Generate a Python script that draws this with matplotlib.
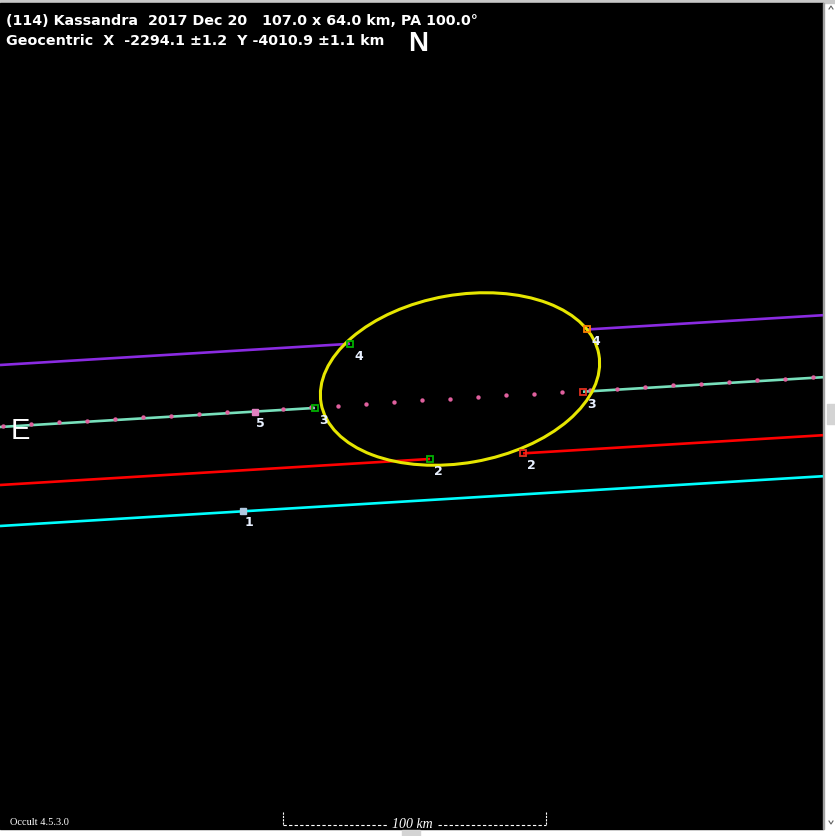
import matplotlib
matplotlib.use("Agg")
import matplotlib.pyplot as plt
from matplotlib.patches import Ellipse, Rectangle
import numpy as np

# ---- data (screen pixel units of the original plot frame) ----
title_line1 = "(114) Kassandra  2017 Dec 20   107.0 x 64.0 km, PA 100.0°"
title_line2 = "Geocentric  X  -2294.1 ±1.2  Y -4010.9 ±1.1 km"

slope = -0.0605                      # common track slope (dy/dx)
chord_ids = ["4", "3", "2", "1"]
chord_colors = ["#8a2be2", "#78e0bc", "#ff0000", "#00ffff"]
chord_intercepts = [366, 428, 486, 527]          # y at x = 0
chord_segments = [
    [(0, 350), (587, 823)],
    [(0, 315), (583, 823)],
    [(0, 430), (523, 823)],
    [(0, 823)],
]
disappear_x = [350, 315, 430]
reappear_x = [587, 583, 523]
disappear_colors = ["#00b000", "#00b000", "#00b000"]
reappear_colors = ["#ff8000", "#e03020", "#e03020"]

chord1_marker_x = 243
chord5_marker_x = 255                 # chord 5 lies on chord 3 track
dot_track_x = [3, 31, 59, 87, 115, 143, 171, 199, 227, 283, 311, 338, 366, 394,
               422, 450, 478, 506, 534, 562, 590, 617, 645, 673, 701, 729, 757,
               785, 813]

ell_center = (460, 380)
ell_major = 282
ell_minor = 168
ell_angle = -10

scale_x0, scale_x1 = 283, 546

# ---- figure ----
W, H = 835, 837
fig = plt.figure(figsize=(W / 100, H / 100), dpi=100, facecolor="white")
ax = fig.add_axes([0, 0, 1, 1])
ax.set_xlim(0, W)
ax.set_ylim(H, 0)
ax.axis("off")

# frame
ax.add_patch(Rectangle((0, 0), W, 4, color="#c8c8c8", zorder=0))
ax.add_patch(Rectangle((0, 4), 823, 826, color="black", zorder=0))
ax.add_patch(Rectangle((823, 4), 1, 826, color="#a0a0a0", zorder=0))
ax.add_patch(Rectangle((827, 405), 8, 20, color="#d4d4d4", zorder=0))
ax.add_patch(Rectangle((402, 831), 18, 6, color="#d4d4d4", zorder=0))
ax.plot([829, 831, 833], [10, 7, 10], color="#606060", lw=0.8)
ax.plot([829, 831, 833], [822, 825, 822], color="#606060", lw=0.8)


def ty(x, b):
    return b + slope * np.asarray(x, dtype=float)


# chords
for cid, col, b, segs in zip(chord_ids, chord_colors, chord_intercepts, chord_segments):
    for x0, x1 in segs:
        ax.plot([x0, x1], [ty(x0, b), ty(x1, b)], color=col, lw=1.9,
                solid_capstyle="butt", zorder=2)

# dotted track along chord 3
ax.scatter(dot_track_x, ty(dot_track_x, chord_intercepts[1]) - 1, s=10,
           color="#e0609e", zorder=3, linewidths=0)

# ellipse
ax.add_patch(Ellipse(ell_center, ell_major, ell_minor, angle=ell_angle,
                     fill=False, edgecolor="#e6e600", lw=2.2, zorder=4))

# event markers and labels
lab_kw = dict(color="#e8f0ff", fontsize=9, fontweight="bold",
              family="DejaVu Sans", zorder=6)
for i in range(3):
    b = chord_intercepts[i]
    for x, c in ((disappear_x[i], disappear_colors[i]), (reappear_x[i], reappear_colors[i])):
        y = ty(x, b)
        ax.plot(x, y, marker="s", ms=5, mfc="none", mec=c, mew=1.3, zorder=5)
        ax.text(x + 4, y + 15, chord_ids[i], **lab_kw)

y1 = ty(chord1_marker_x, chord_intercepts[3])
ax.plot(chord1_marker_x, y1, marker="s", ms=4, mfc="#b0c8e0", mec="#b0c8e0", zorder=5)
ax.text(chord1_marker_x + 2, y1 + 14, "1", **lab_kw)

y5 = ty(chord5_marker_x, chord_intercepts[1])
ax.plot(chord5_marker_x, y5, marker="s", ms=4, mfc="#e080c0", mec="#e080c0", zorder=5)
ax.text(chord5_marker_x + 1, y5 + 14, "5", **lab_kw)

# titles
ax.text(6, 25, title_line1, color="white", fontsize=10.3, fontweight="bold",
        family="DejaVu Sans", va="baseline")
ax.text(6, 45, title_line2, color="white", fontsize=10.3, fontweight="bold",
        family="DejaVu Sans", va="baseline")
ax.text(408, 51, "N", color="white", fontsize=20, fontweight="bold",
        family="Liberation Sans", va="baseline")
ax.text(11, 439, "E", color="white", fontsize=21, family="Liberation Sans",
        va="baseline")

# footer
ax.text(10, 825, "Occult 4.5.3.0", color="white", fontsize=7.5,
        family="Liberation Serif", va="baseline")
ax.plot([scale_x0, scale_x0], [813, 826], color="white", lw=0.8, ls=(0, (2, 1)))
ax.plot([scale_x1, scale_x1], [813, 826], color="white", lw=0.8, ls=(0, (2, 1)))
mid = (scale_x0 + scale_x1) / 2
ax.plot([scale_x0, mid - 27], [826, 826], color="white", lw=0.8, ls=(0, (3, 2)))
ax.plot([mid + 23, scale_x1], [826, 826], color="white", lw=0.8, ls=(0, (3, 2)))
ax.text(mid - 2, 828, "100 km", color="white", fontsize=10, style="italic",
        family="Liberation Serif", ha="center", va="baseline")

fig.savefig("out.png", dpi=100, facecolor="white")
